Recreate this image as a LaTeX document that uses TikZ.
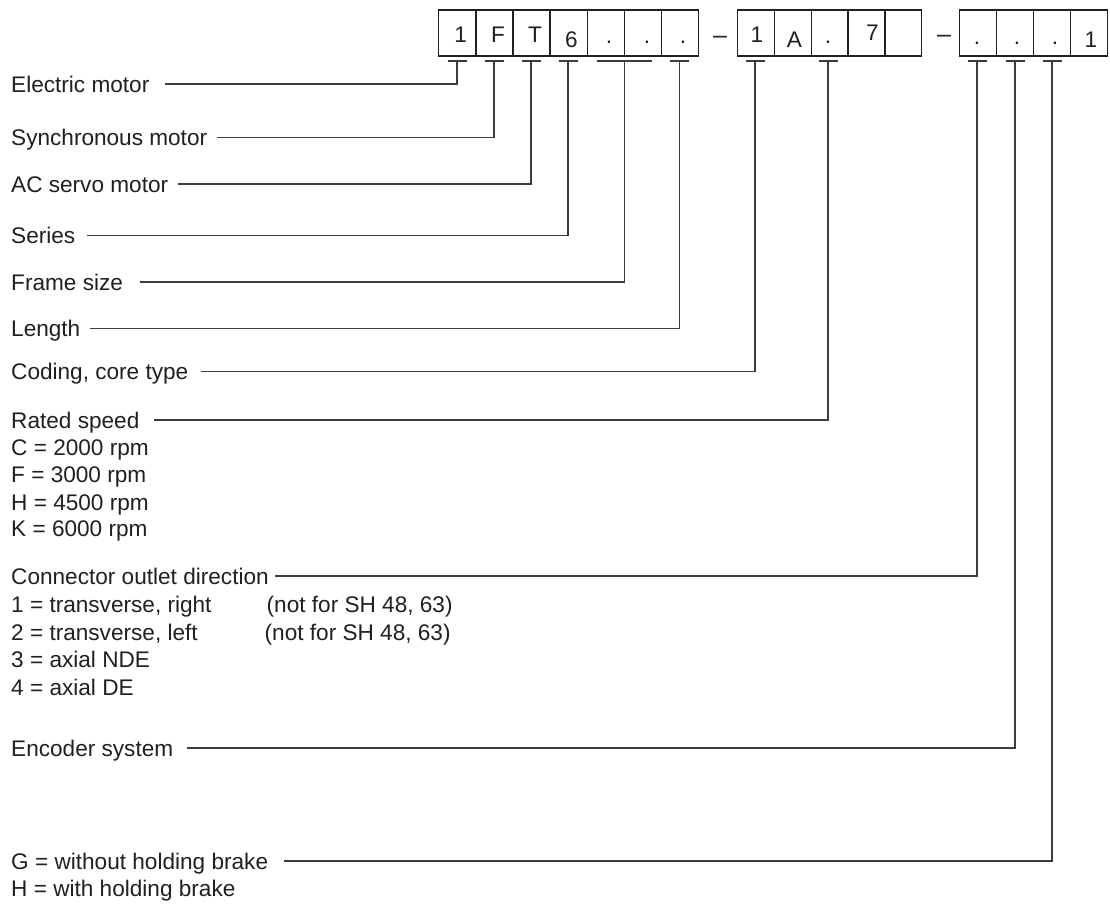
\documentclass[tikz,border=0pt]{standalone}
\usepackage{fontspec}
\setmainfont{Liberation Sans}
\usetikzlibrary{calc}
\definecolor{ink}{HTML}{231F20}
\definecolor{wire}{HTML}{3C3C3C}
\begin{document}
\begin{tikzpicture}[x=1pt,y=-1pt,
  txt/.style={inner sep=0pt, text=ink, font=\fontsize{22.6}{27}\selectfont},
  lbl/.style={txt, anchor=west, text height=16pt, text depth=0pt},
  sub/.style={lbl},
  codebox/.style={draw=ink, line width=1.4pt, minimum height=46pt, inner sep=0pt, anchor=north west},
  boxtxt/.style={txt, anchor=base},
  dashtxt/.style={txt, anchor=base, font=\fontsize{25}{27}\selectfont},
  wireline/.style={draw=wire, line width=1.1pt},
]
\useasboundingbox[fill=white] (0,0) rectangle (1110,903);

% ---- code boxes ----
\node[codebox, minimum width=37.14pt] (b1)  at (438,9.3)   {};
\node[codebox, minimum width=37.14pt] (b2)  at (475.14,9.3) {};
\node[codebox, minimum width=37.14pt] (b3)  at (512.28,9.3) {};
\node[codebox, minimum width=37.14pt] (b4)  at (549.42,9.3) {};
\node[codebox, minimum width=37.14pt] (b5)  at (586.56,9.3) {};
\node[codebox, minimum width=37.14pt] (b6)  at (623.70,9.3) {};
\node[codebox, minimum width=37.14pt] (b7)  at (660.84,9.3) {};
\node[codebox, minimum width=36.8pt] (b8)  at (737,9.3)   {};
\node[codebox, minimum width=36.8pt] (b9)  at (773.8,9.3) {};
\node[codebox, minimum width=36.8pt] (b10) at (810.6,9.3) {};
\node[codebox, minimum width=36.8pt] (b11) at (847.4,9.3) {};
\node[codebox, minimum width=36.8pt] (b12) at (884.2,9.3) {};
\node[codebox, minimum width=37pt] (b13) at (959,9.3)  {};
\node[codebox, minimum width=37pt] (b14) at (996,9.3)  {};
\node[codebox, minimum width=37pt] (b15) at (1033,9.3) {};
\node[codebox, minimum width=37pt] (b16) at (1070,9.3) {};

% ---- box contents ----
\node[boxtxt] (c1)  at (460.7,42.5) {1};
\node[boxtxt] (c2)  at (498,42.5)   {F};
\node[boxtxt] (c3)  at (535,42.5)   {T};
\node[boxtxt] (c4)  at (571.5,47.5) {6};
\node[boxtxt] (c5)  at (609,43.5)   {.};
\node[boxtxt] (c6)  at (647,43.5)   {.};
\node[boxtxt] (c7)  at (683,43.5)   {.};
\node[boxtxt] (c8)  at (757,42.5)   {1};
\node[boxtxt] (c9)  at (794.5,47.5) {A};
\node[boxtxt] (c10) at (828,43.5)   {.};
\node[boxtxt] (c11) at (872.5,40.5) {7};
\node[boxtxt] (c13) at (977,44)     {.};
\node[boxtxt] (c14) at (1017,44)    {.};
\node[boxtxt] (c15) at (1055,44)    {.};
\node[boxtxt] (c16) at (1091,47.5)  {1};
\node[dashtxt] (d1)  at (720,43.5)  {–};
\node[dashtxt] (d2)  at (944,42)    {–};

% ---- stub coordinates ----
\coordinate (tEM) at (457,61);
\coordinate (tSM) at (494,61);
\coordinate (tAC) at (531,61);
\coordinate (tSe) at (568,61);
\coordinate (tFr) at (624.5,61);
\coordinate (tLe) at (679.5,61);
\coordinate (tCo) at (755,61);
\coordinate (tRa) at (828,61);
\coordinate (tCn) at (977,61);
\coordinate (tEn) at (1015,61);
\coordinate (tBr) at (1052,61);

\foreach \t in {tEM,tSM,tAC,tSe,tLe,tCo,tRa,tCn,tEn,tBr}
  \draw[wireline] ($(\t)+(-9.5,0)$) -- ($(\t)+(9.5,0)$);
\draw[wireline] ($(tFr)+(-27.5,0)$) -- ($(tFr)+(27.5,0)$);

% ---- labels ----
\node[lbl] (lEM) at (11,84)    {Electric motor};
\node[lbl] (lSM) at (11,137.5) {Synchronous motor};
\node[lbl] (lAC) at (11,184)   {AC servo motor};
\node[lbl] (lSe) at (11,235.5) {Series};
\node[lbl] (lFr) at (11,282)   {Frame size};
\node[lbl] (lLe) at (11,328.5) {Length};
\node[lbl] (lCo) at (11,371.5) {Coding, core type};
\node[lbl] (lRa) at (11,420)   {Rated speed};
\node[sub] (r1)  at (11,447.5) {C = 2000 rpm};
\node[sub] (r2)  at (11,474.7) {F = 3000 rpm};
\node[sub] (r3)  at (11,502)   {H = 4500 rpm};
\node[sub] (r4)  at (11,528.7) {K = 6000 rpm};
\node[lbl] (lCn) at (11,576)   {Connector outlet direction};
\node[sub] (o1)  at (11,604.7) {1 = transverse, right};
\node[sub] (o1n) at (266.5,604.7) {(not for SH 48, 63)};
\node[sub] (o2)  at (11,632)   {2 = transverse, left};
\node[sub] (o2n) at (264.5,632) {(not for SH 48, 63)};
\node[sub] (o3)  at (11,659.7) {3 = axial NDE};
\node[sub] (o4)  at (11,687)   {4 = axial DE};
\node[lbl] (lEn) at (11,748)   {Encoder system};
\node[lbl] (lBr) at (11,861)   {G = without holding brake};
\node[sub] (h1)  at (11,888)   {H = with holding brake};

% ---- connectors ----
\draw[wireline] (lEM.east) ++(15,0) -- (tEM |- lEM.east) -- (tEM);
\draw[wireline] (lSM.east) ++(10,0) -- (tSM |- lSM.east) -- (tSM);
\draw[wireline] (lAC.east) ++(10,0) -- (tAC |- lAC.east) -- (tAC);
\draw[wireline] (lSe.east) ++(12,0) -- (tSe |- lSe.east) -- (tSe);
\draw[wireline] (lFr.east) ++(17,0) -- (tFr |- lFr.east) -- (tFr);
\draw[wireline] (lLe.east) ++(9,0)  -- (tLe |- lLe.east) -- (tLe);
\draw[wireline] (lCo.east) ++(12,0) -- (tCo |- lCo.east) -- (tCo);
\draw[wireline] (lRa.east) ++(14,0) -- (tRa |- lRa.east) -- (tRa);
\draw[wireline] (lCn.east) ++(6,0)  -- (tCn |- lCn.east) -- (tCn);
\draw[wireline] (lEn.east) ++(14,0) -- (tEn |- lEn.east) -- (tEn);
\draw[wireline] (lBr.east) ++(16,0) -- (tBr |- lBr.east) -- (tBr);
\end{tikzpicture}
\end{document}
